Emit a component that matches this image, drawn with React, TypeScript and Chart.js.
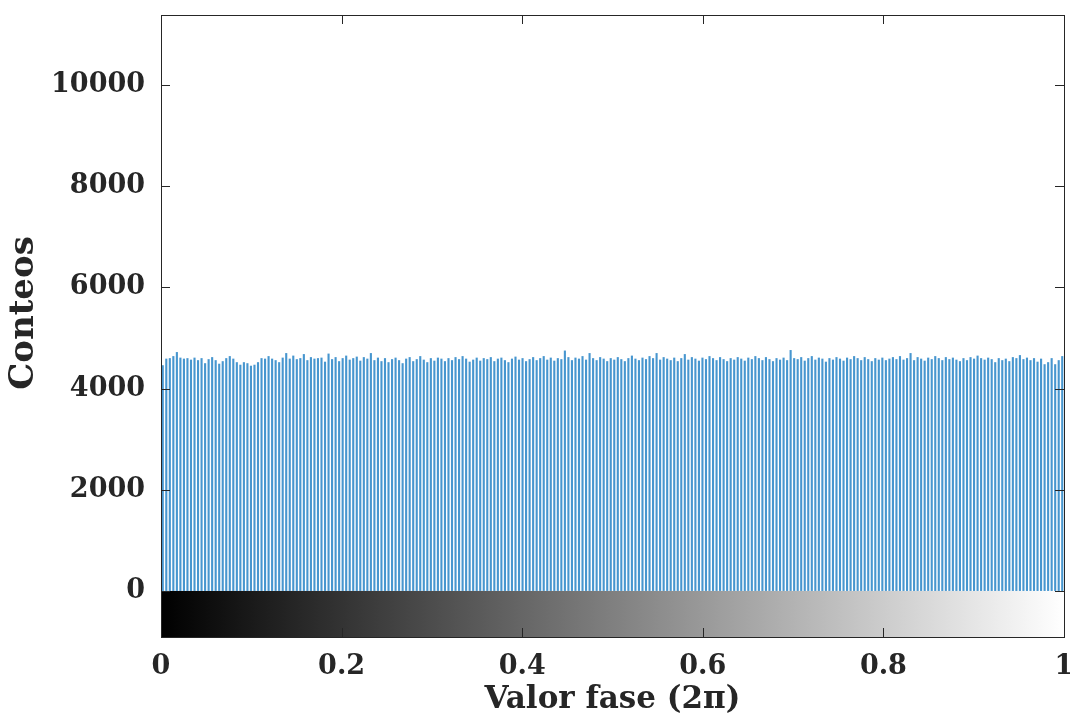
import { useEffect, useRef } from "react";
import { Chart, registerables } from "chart.js";

Chart.register(...registerables);

// 256 histogram bins of the phase value (0..1, in units of 2π)
const counts: number[] = [
  4460, 4590, 4600, 4640, 4720, 4610, 4590, 4600, 4570, 4610, 4560, 4600, 4500, 4580, 4620, 4560,
  4490, 4540, 4600, 4640, 4590, 4520, 4470, 4520, 4500, 4450, 4470, 4520, 4600, 4590, 4640, 4590,
  4560, 4520, 4610, 4700, 4590, 4650, 4580, 4600, 4680, 4560, 4620, 4590, 4600, 4610, 4530, 4690,
  4580, 4620, 4540, 4600, 4650, 4570, 4600, 4630, 4550, 4620, 4590, 4700, 4560, 4610, 4540, 4600,
  4520, 4580, 4610, 4560, 4500, 4590, 4620, 4540, 4580, 4640, 4570, 4520, 4600, 4550, 4610, 4590,
  4540, 4600, 4560, 4620, 4580, 4640, 4590, 4530, 4570, 4610, 4550, 4600, 4580, 4620, 4540, 4590,
  4610, 4560, 4520, 4590, 4630, 4570, 4600, 4540, 4580, 4620, 4560, 4600, 4640, 4570, 4610, 4550,
  4600, 4580, 4750, 4620, 4560, 4610, 4590, 4640, 4570, 4700, 4600, 4560, 4620, 4590, 4540, 4600,
  4570, 4620, 4580, 4540, 4600, 4650, 4590, 4560, 4610, 4580, 4640, 4600, 4700, 4570, 4620, 4590,
  4560, 4610, 4540, 4600, 4680, 4570, 4620, 4590, 4550, 4610, 4580, 4640, 4600, 4560, 4620, 4580,
  4540, 4600, 4570, 4620, 4590, 4550, 4610, 4580, 4640, 4600, 4560, 4620, 4580, 4540, 4600, 4570,
  4610, 4560, 4760, 4600, 4580, 4620, 4550, 4600, 4640, 4570, 4610, 4590, 4530, 4600, 4570, 4620,
  4590, 4550, 4610, 4580, 4640, 4600, 4560, 4620, 4580, 4540, 4600, 4570, 4610, 4560, 4590, 4620,
  4580, 4640, 4570, 4600, 4700, 4560, 4620, 4590, 4550, 4610, 4580, 4640, 4600, 4560, 4620, 4580,
  4610, 4570, 4540, 4600, 4560, 4620, 4590, 4650, 4600, 4570, 4610, 4580, 4520, 4600, 4560, 4590,
  4540, 4620, 4600, 4660, 4580, 4610, 4560, 4600, 4530, 4590, 4480, 4520, 4600, 4480, 4560, 4640,
];

const xTickValues: number[] = [0, 0.2, 0.4, 0.6, 0.8, 1];
const yTickValues: number[] = [0, 2000, 4000, 6000, 8000, 10000];
const xRange: number[] = [0, 1];
const yRange: number[] = [-910, 11380];
const xTitle = "Valor fase (2\u03c0)";
const yTitle = "Conteos";

const INK = "#262626";
const FONT = "'DejaVu Serif', serif";

export default function App() {
  const ref = useRef<HTMLCanvasElement>(null);

  useEffect(() => {
    if (!ref.current) return;
    const n = counts.length;
    const data = counts.map((c, i) => ({ x: (i + 0.5) / n, y: c }));

    const framePlugin = {
      id: "frame",
      beforeDatasetsDraw(chart: any) {
        const { ctx, chartArea: a, scales } = chart;
        const y0 = scales.y.getPixelForValue(0);
        const g = ctx.createLinearGradient(a.left, 0, a.right, 0);
        g.addColorStop(0, "#000000");
        g.addColorStop(1, "#ffffff");
        ctx.save();
        ctx.fillStyle = g;
        ctx.fillRect(a.left, y0, a.right - a.left, a.bottom - y0);
        ctx.restore();
      },
      afterDatasetsDraw(chart: any) {
        const { ctx, chartArea: a, scales } = chart;
        const tl = 9;
        ctx.save();
        ctx.strokeStyle = INK;
        ctx.lineWidth = 1;
        ctx.beginPath();
        for (const v of yTickValues) {
          const py = Math.round(scales.y.getPixelForValue(v)) + 0.5;
          ctx.moveTo(a.left, py);
          ctx.lineTo(a.left + tl, py);
          ctx.moveTo(a.right, py);
          ctx.lineTo(a.right - tl, py);
        }
        for (const v of xTickValues) {
          const px = Math.round(scales.x.getPixelForValue(v)) + 0.5;
          ctx.moveTo(px, a.bottom);
          ctx.lineTo(px, a.bottom - tl);
          ctx.moveTo(px, a.top);
          ctx.lineTo(px, a.top + tl);
        }
        ctx.stroke();
        ctx.strokeRect(
          Math.round(a.left) + 0.5,
          Math.round(a.top) + 0.5,
          Math.round(a.right - a.left),
          Math.round(a.bottom - a.top)
        );
        // y-axis title (rotated), centred slightly above the axis middle
        ctx.fillStyle = INK;
        ctx.font = `bold 34px ${FONT}`;
        ctx.textAlign = "center";
        ctx.textBaseline = "middle";
        ctx.translate(24, (a.top + a.bottom) / 2 - 13);
        ctx.rotate(-Math.PI / 2);
        ctx.fillText(yTitle, 0, 0);
        ctx.restore();
      },
    };

    const chart = new Chart(ref.current, {
      type: "bar",
      data: {
        datasets: [
          {
            data,
            backgroundColor: "#4796cf",
            borderWidth: 0,
            barPercentage: 0.6,
            categoryPercentage: 1,
          },
        ],
      },
      options: {
        animation: false,
        responsive: true,
        maintainAspectRatio: false,
        layout: { padding: { left: 0, right: 6, top: 15, bottom: 0 } },
        plugins: { legend: { display: false }, tooltip: { enabled: false } },
        scales: {
          x: {
            type: "linear",
            offset: false,
            min: xRange[0],
            max: xRange[1],
            grid: { display: false, offset: false },
            border: { display: false },
            afterBuildTicks: (s: any) => {
              s.ticks = xTickValues.map((v) => ({ value: v }));
            },
            afterFit: (s: any) => {
              s.height = 82;
              s.paddingLeft = 0;
              s.paddingRight = 0;
            },
            ticks: {
              color: INK,
              font: { family: FONT, size: 27, weight: "bold" },
              padding: 6,
              maxRotation: 0,
              autoSkip: false,
              callback: (v: any) => String(v),
            },
            title: {
              display: true,
              text: xTitle,
              color: INK,
              font: { family: FONT, size: 31, weight: "bold" },
              padding: { top: 0, bottom: 0 },
            },
          },
          y: {
            type: "linear",
            min: yRange[0],
            max: yRange[1],
            grid: { display: false },
            border: { display: false },
            afterBuildTicks: (s: any) => {
              s.ticks = yTickValues.map((v) => ({ value: v }));
            },
            afterFit: (s: any) => {
              s.width = 161;
              s.paddingTop = 0;
              s.paddingBottom = 0;
            },
            ticks: {
              color: INK,
              font: { family: FONT, size: 27, weight: "bold" },
              padding: 8,
              autoSkip: false,
              callback: (v: any) => String(v),
            },
            title: { display: false, text: yTitle },
          },
        },
      },
      plugins: [framePlugin],
    });

    return () => chart.destroy();
  }, []);

  return (
    <div
      style={{
        position: "fixed",
        left: 0,
        top: 0,
        width: 1070,
        height: 719,
        background: "#ffffff",
      }}
    >
      <canvas ref={ref} />
    </div>
  );
}
